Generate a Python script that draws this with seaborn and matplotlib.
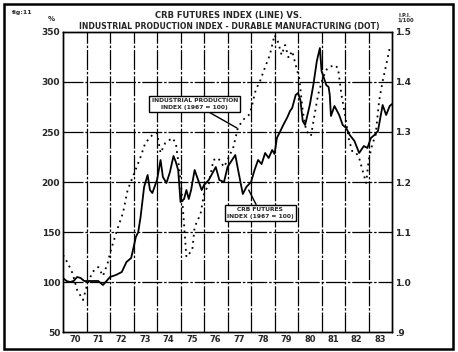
import numpy as np
import pandas as pd
import matplotlib
matplotlib.use('Agg')
import matplotlib.pyplot as plt
import seaborn as sns

# CRB futures index (solid line), left axis, 1967 = 100
crb_t = [1970.0, 1970.15, 1970.3, 1970.45, 1970.6, 1970.75, 1970.9, 1971.1, 1971.3, 1971.5,
         1971.7, 1971.85, 1972.0, 1972.25, 1972.5, 1972.7, 1972.9, 1973.1, 1973.2, 1973.3,
         1973.45, 1973.6, 1973.7, 1973.8, 1974.0, 1974.15, 1974.25, 1974.4, 1974.55, 1974.7,
         1974.8, 1974.9, 1975.0, 1975.15, 1975.25, 1975.35, 1975.45, 1975.6, 1975.75, 1975.9,
         1976.0, 1976.2, 1976.5, 1976.65, 1976.85, 1977.0, 1977.33, 1977.45, 1977.65, 1977.8,
         1978.0, 1978.15, 1978.3, 1978.45, 1978.6, 1978.75, 1978.9, 1979.0, 1979.1, 1979.25,
         1979.35, 1979.55, 1979.66, 1979.75, 1979.9, 1980.0, 1980.1, 1980.2, 1980.3, 1980.5,
         1980.65, 1980.8, 1980.93, 1981.0, 1981.2, 1981.3, 1981.35, 1981.4, 1981.55, 1981.75,
         1981.9, 1982.05, 1982.2, 1982.4, 1982.6, 1982.8, 1982.95, 1983.1, 1983.25, 1983.4,
         1983.6, 1983.75, 1983.9, 1984.0]
crb_v = [104, 101, 100, 101, 105, 104, 101, 101, 101, 101,
         97, 101, 105, 107, 110, 120, 124, 145, 150, 165,
         195, 207, 192, 189, 202, 222, 205, 199, 210, 226,
         220, 212, 180, 183, 192, 183, 192, 212, 202, 192,
         197, 202, 215, 202, 200, 215, 227, 212, 188, 195,
         200, 212, 222, 218, 229, 224, 232, 228, 244, 251,
         256, 265, 271, 274, 287, 289, 282, 261, 257, 277,
         297, 321, 334, 311, 297, 295, 287, 266, 276, 267,
         257, 254, 247, 241, 229, 236, 234, 244, 247, 251,
         277, 267, 276, 278]

# Industrial production index, durable manufacturing (dots), right axis
ipi_t = [1970.0, 1970.2, 1970.4, 1970.6, 1970.85, 1971.0, 1971.25, 1971.5, 1971.7, 1971.9,
         1972.0, 1972.3, 1972.55, 1972.75, 1973.0, 1973.3, 1973.5, 1973.8, 1974.0, 1974.15,
         1974.35, 1974.65, 1974.8, 1974.95, 1975.05, 1975.25, 1975.5, 1975.6, 1975.85, 1976.0,
         1976.2, 1976.4, 1976.6, 1976.85, 1977.0, 1977.25, 1977.45, 1977.7, 1977.95, 1978.2,
         1978.4, 1978.6, 1978.8, 1979.0, 1979.15, 1979.3, 1979.45, 1979.6, 1979.75, 1979.9,
         1980.05, 1980.2, 1980.35, 1980.55, 1980.7, 1980.85, 1981.05, 1981.25, 1981.55, 1981.7,
         1981.85, 1982.0, 1982.15, 1982.3, 1982.45, 1982.6, 1982.75, 1982.9, 1983.0, 1983.15,
         1983.3, 1983.45, 1983.6, 1983.75, 1983.9]
ipi_v = [1.054, 1.038, 1.018, 0.984, 0.964, 0.990, 1.020, 1.030, 1.012, 1.038,
         1.058, 1.104, 1.138, 1.184, 1.214, 1.250, 1.278, 1.294, 1.298, 1.258,
         1.278, 1.288, 1.278, 1.224, 1.180, 1.050, 1.064, 1.110, 1.136, 1.176,
         1.196, 1.244, 1.248, 1.230, 1.244, 1.270, 1.310, 1.326, 1.336, 1.384,
         1.404, 1.430, 1.454, 1.494, 1.480, 1.454, 1.474, 1.448, 1.462, 1.434,
         1.408, 1.342, 1.302, 1.292, 1.334, 1.374, 1.408, 1.428, 1.434, 1.428,
         1.374, 1.334, 1.288, 1.262, 1.260, 1.248, 1.222, 1.198, 1.242, 1.274,
         1.294, 1.362, 1.402, 1.434, 1.468]

years = list(range(1970, 1984))
year_labels = [str(y - 1900) for y in years]
left_ticks = [50, 100, 150, 200, 250, 300, 350]
right_ticks = [0.9, 1.0, 1.1, 1.2, 1.3, 1.4, 1.5]
right_labels = ['.9', '1.0', '1.1', '1.2', '1.3', '1.4', '1.5']

crb = pd.DataFrame({'t': crb_t, 'v': crb_v})
ipi = pd.DataFrame({'t': ipi_t, 'v': ipi_v})

sns.set_style('white')
plt.rcParams['font.family'] = ['DejaVu Sans']
plt.rcParams['font.weight'] = 'bold'

fig = plt.figure(figsize=(4.58, 3.52), dpi=100)
ax = fig.add_axes([0.1376, 0.0568, 0.7184, 0.8523])
ax2 = ax.twinx()

# grid
grid_ls = (0, (16, 1.5, 2, 1.5))
for y in years[1:]:
    ax.axvline(y, color='black', lw=0.9, ls=grid_ls, zorder=1)
for v in left_ticks[1:-1]:
    ax.axhline(v, color='black', lw=0.9, ls=grid_ls, zorder=1)

sns.lineplot(data=crb, x='t', y='v', ax=ax, color='black', lw=1.3, zorder=3)
sns.lineplot(data=ipi, x='t', y='v', ax=ax2, color='black', lw=1.3,
             ls=(0, (1, 2.4)), zorder=3)

ax.set_xlim(1970, 1984)
ax.set_ylim(50, 350)
ax2.set_ylim(0.9, 1.5)
ax.set_yticks(left_ticks)
ax.set_yticklabels([str(v) for v in left_ticks], fontsize=6.5, fontweight='bold')
ax2.set_yticks(right_ticks)
ax2.set_yticklabels(right_labels, fontsize=6.5, fontweight='bold')
ax.set_xticks([y + 0.5 for y in years])
ax.set_xticklabels(year_labels, fontsize=6, fontweight='bold')
for a in (ax, ax2):
    a.set_xlabel('')
    a.set_ylabel('')
    a.tick_params(length=0, pad=2)
    for s in a.spines.values():
        s.set_linewidth(1.0)
        s.set_color('black')

# titles and axis captions
fig.text(0.50, 0.955, 'CRB FUTURES INDEX (LINE) VS.', ha='center', va='center',
         fontsize=6.0, fontweight='bold')
fig.text(0.50, 0.925, 'INDUSTRIAL PRODUCTION INDEX - DURABLE MANUFACTURING (DOT)',
         ha='center', va='center', fontsize=5.6, fontweight='bold')
fig.text(0.025, 0.965, 'fig:11', ha='left', va='center', fontsize=4.5, fontweight='bold')
fig.text(0.112, 0.945, '%', ha='center', va='center', fontsize=5, fontweight='bold')
fig.text(0.885, 0.95, 'I.P.I.\n1/100', ha='center', va='center', fontsize=3.8,
         fontweight='bold', linespacing=1.0)

# annotations
box = dict(boxstyle='square,pad=0.35', fc='white', ec='black', lw=1.0)
ax.annotate('INDUSTRIAL PRODUCTION\nINDEX (1967 = 100)', xy=(1977.4, 254),
            xytext=(1975.6, 278), ha='center', va='center', fontsize=4.3,
            fontweight='bold', bbox=box, zorder=5,
            arrowprops=dict(arrowstyle='-', color='black', lw=1.0,
                            shrinkA=0, shrinkB=0), linespacing=1.5)
ax.annotate('CRB FUTURES\nINDEX (1967 = 100)', xy=(1977.9, 192),
            xytext=(1978.4, 169), ha='center', va='center', fontsize=4.3,
            fontweight='bold', bbox=box, zorder=5,
            arrowprops=dict(arrowstyle='-', color='black', lw=1.0,
                            shrinkA=0, shrinkB=0), linespacing=1.5)

# outer frame
fig.patches.append(plt.Rectangle((0.008, 0.008), 0.982, 0.982, transform=fig.transFigure,
                                 fill=False, ec='black', lw=1.8))

fig.savefig('out.png', dpi=100)
